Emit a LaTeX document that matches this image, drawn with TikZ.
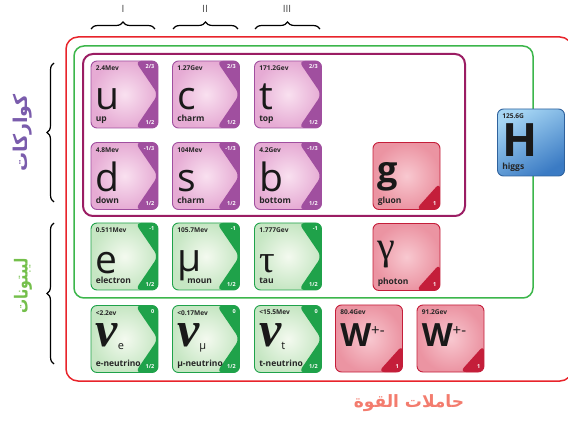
\documentclass[tikz,border=0pt]{standalone}
\usepackage{fontspec}
\setmainfont{Open Sans}
\newfontfamily\arabicfont[Script=Arabic]{DejaVu Sans}
\newfontfamily\serifgreek{Liberation Serif}
\TeXXeTstate=1
\usetikzlibrary{positioning, calc, decorations.pathreplacing}

\definecolor{quarkL}{HTML}{F2BBDD}
\definecolor{quarkD}{HTML}{A04F9F}
\definecolor{leptonL}{HTML}{E3F2D8}
\definecolor{leptonD}{HTML}{1FA24A}
\definecolor{bosonL}{HTML}{F5B1BC}
\definecolor{bosonD}{HTML}{C41E3A}
\definecolor{higgsL}{HTML}{A6D6F4}
\definecolor{higgsD}{HTML}{3B7BC4}
\definecolor{frameR}{HTML}{E8242B}
\definecolor{frameG}{HTML}{3CB64B}
\definecolor{frameP}{HTML}{9B1D63}
\definecolor{quarkTxt}{HTML}{7A5CAC}
\definecolor{leptonTxt}{HTML}{74BF4B}
\definecolor{forceTxt}{HTML}{F37C6E}

\tikzset{
  tile/.style={minimum size=67pt, inner sep=0pt, rounded corners=6pt, line width=0.9pt},
  chevron/.style={path picture={
    \fill[#1] (path picture bounding box.north east)
      -- ($(path picture bounding box.north west)!0.66!(path picture bounding box.north east)$)
      -- (path picture bounding box.east)
      -- ($(path picture bounding box.south west)!0.66!(path picture bounding box.south east)$)
      -- (path picture bounding box.south east) -- cycle;}},
  corner/.style={path picture={
    \fill[#1] ($(path picture bounding box.south east)!0.4!(path picture bounding box.north east)$)
      -- ($(path picture bounding box.south west)!0.64!(path picture bounding box.south east)$)
      -- (path picture bounding box.south east) -- cycle;}},
  quark/.style={tile, draw=quarkD, inner color=quarkL!45!white, outer color=quarkL!85!quarkD, chevron=quarkD},
  lepton/.style={tile, draw=leptonD, inner color=leptonL!40!white, outer color=leptonL!85!leptonD, chevron=leptonD},
  boson/.style={tile, draw=bosonD, inner color=bosonL!70!white, outer color=bosonL!80!bosonD, corner=bosonD},
  higgs/.style={tile, draw=higgsD!80!black, top color=higgsL, bottom color=higgsD, shading angle=30},
  masstxt/.style={font=\bfseries\fontsize{6.6}{7}\selectfont, inner sep=0pt, anchor=north west, text=black!85},
  spintxt/.style={font=\bfseries\fontsize{5.5}{6}\selectfont, text=white, inner sep=0pt},
  symtxt/.style={font=\fontsize{39}{39}\selectfont, inner sep=0pt, anchor=base west, text=black!90},
  nametxt/.style={font=\bfseries\fontsize{8.5}{9}\selectfont, inner sep=0pt, anchor=base west, text=black!85},
  gen/.style={font=\fontsize{10}{10}\selectfont, text=black!75},
  brace/.style={decorate, decoration={brace, amplitude=7pt}, line width=1.2pt},
  group/.style={inner sep=0pt}
}

% nu with a subscript
\newcommand{\nusym}[1]{{\serifgreek\bfseries\itshape\fontsize{50}{50}\selectfont ν}\raisebox{-3pt}{\fontsize{11}{11}\selectfont #1}}

% #1 name, #2 centre, #3 kind, #4 mass, #5 symbol, #6 label, #7 charge, #8 spin, #9 symbol baseline
\newcommand{\particle}[9]{%
  \node[#3] (#1) at (#2) {};
  \node[masstxt] (#1-m) at ([shift={(5,5)}]#1.north west) {#4};
  \node[symtxt] (#1-s) at ([shift={(5,#9)}]#1.north west) {#5};
  \node[nametxt] (#1-n) at ([shift={(5,61)}]#1.north west) {#6};
  \node[spintxt, anchor=north east] (#1-q) at ([shift={(-4,4)}]#1.north east) {#7};
  \node[spintxt, anchor=south east] (#1-j) at ([shift={(-4,-4)}]#1.south east) {#8};
}

\begin{document}
\begin{tikzpicture}[x=1pt, y=-1pt]
    \useasboundingbox (0,0) rectangle (568,422);

    % Frames
    \draw[frameR, line width=1.5pt, rounded corners=12pt] (66,37) rectangle (572,381);
    \draw[frameG, line width=1.5pt, rounded corners=10pt] (74,46) rectangle (533,298);
    \draw[frameP, line width=2pt, rounded corners=10pt] (83,54) rectangle (465,216);

    % Generations
    \node[gen] (g1) at (123,9) {I};
    \node[gen] (g2) at (205,9) {II};
    \node[gen] (g3) at (287,9) {III};
    \draw[brace] (91,29) -- (155,29);
    \draw[brace] (173,29) -- (238,29);
    \draw[brace] (255,29) -- (320,29);

    % Side groups
    \draw[brace] (54,202) -- (54,63);
    \draw[brace] (54,364) -- (54,223);
    \node[group, rotate=90, text=quarkTxt, font=\arabicfont\bfseries\fontsize{19}{19}\selectfont] (quarks) at (23,133) {\beginR كواركات\endR};
    \node[group, rotate=90, text=leptonTxt, font=\arabicfont\bfseries\fontsize{18}{18}\selectfont] (leptons) at (23,286) {\scalebox{0.78}[1]{\beginR ليبتونات\endR}};
    \node[group, text=forceTxt, font=\arabicfont\bfseries\fontsize{17}{17}\selectfont] (forces) at (409,403) {\beginR حاملات القوة\endR};

    % Quarks
    \particle{u}{124.5,94.5}{quark}{2.4Mev}{u}{up}{2/3}{1/2}{49}
    \particle{c}{206,94.5}{quark}{1.27Gev}{c}{charm}{2/3}{1/2}{49}
    \particle{t}{288,94.5}{quark}{171.2Gev}{t}{top}{2/3}{1/2}{49}
    \particle{d}{124.5,176}{quark}{4.8Mev}{d}{down}{-1/3}{1/2}{49}
    \particle{s}{206,176}{quark}{104Mev}{s}{charm}{-1/3}{1/2}{49}
    \particle{b}{288,176}{quark}{4.2Gev}{b}{bottom}{-1/3}{1/2}{49}

    % Leptons
    \particle{e}{124.5,256.5}{lepton}{0.511Mev}{e}{electron}{-1}{1/2}{51}
    \particle{mu}{206,256.5}{lepton}{105.7Mev}{μ}{\hspace{10pt}moun}{-1}{1/2}{49}
    \particle{tau}{288,256.5}{lepton}{1.777Gev}{\serifgreek τ}{tau}{-1}{1/2}{50}
    \particle{nue}{124.5,339}{lepton}{<2.2ev}{\nusym{e}}{e-neutrino}{0}{1/2}{41}
    \particle{numu}{206,339}{lepton}{<0.17Mev}{\nusym{μ}}{μ-neutrino}{0}{1/2}{41}
    \particle{nutau}{288,339}{lepton}{<15.5Mev}{\nusym{t}}{t-neutrino}{0}{1/2}{41}

    % Bosons
    \particle{gl}{406.5,176}{boson}{}{\bfseries\fontsize{36}{36}\selectfont g}{gluon}{}{1}{40}
    \particle{ga}{406.5,257}{boson}{}{\serifgreek\fontsize{40}{40}\selectfont γ}{photon}{}{1}{36}
    \particle{w}{369,338.5}{boson}{80.4Gev}{\bfseries\fontsize{32}{32}\selectfont W\raisebox{11pt}{\mdseries\fontsize{15}{15}\selectfont +-}}{}{}{1}{42}
    \particle{z}{450.5,338.5}{boson}{91.2Gev}{\bfseries\fontsize{32}{32}\selectfont W\raisebox{11pt}{\mdseries\fontsize{15}{15}\selectfont +-}}{}{}{1}{42}

    % Higgs
    \particle{h}{531,142.5}{higgs}{125.6G}{\bfseries\fontsize{46}{46}\selectfont H}{higgs}{}{}{48}
\end{tikzpicture}
\end{document}
